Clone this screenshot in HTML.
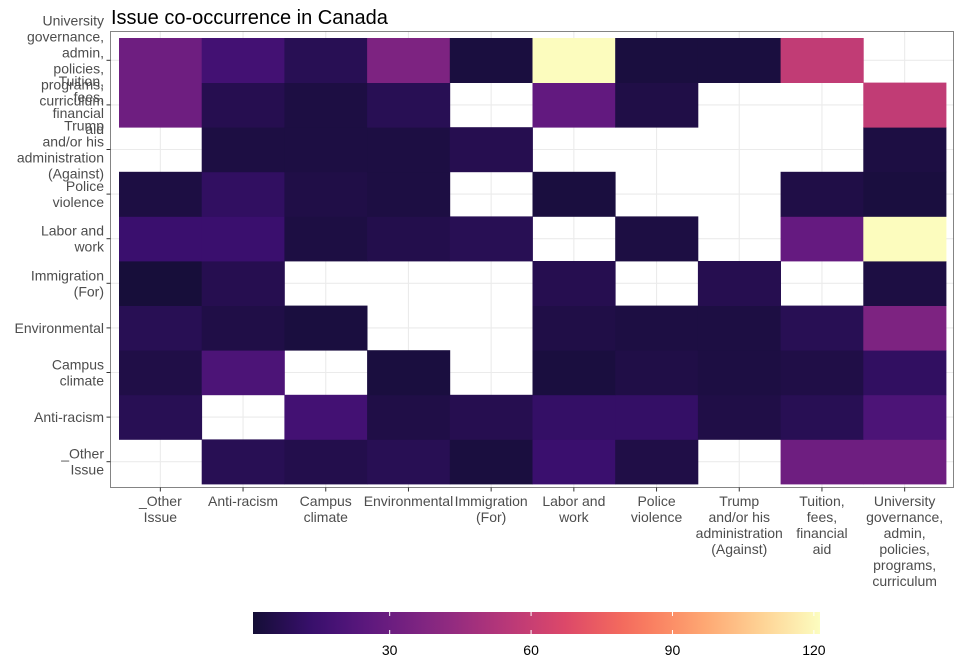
<!DOCTYPE html>
<html><head><meta charset="utf-8">
<style>
body{margin:0;background:#fff;}
svg{display:block;font-family:"Liberation Sans",sans-serif;}
</style></head>
<body>
<svg id="chart" width="960" height="672">
<defs>
<linearGradient id="cbar" x1="0" x2="1" y1="0" y2="0"></linearGradient>
</defs>
<text x="111" y="24" font-size="20" fill="#000">Issue co-occurrence in Canada</text>
</svg>
<script>
const categories = ["_Other Issue","Anti-racism","Campus climate","Environmental","Immigration (For)","Labor and work","Police violence","Trump and/or his administration (Against)","Tuition, fees, financial aid","University governance, admin, policies, programs, curriculum"];
const xLabels = [["_Other","Issue"],["Anti-racism"],["Campus","climate"],["Environmental"],["Immigration","(For)"],["Labor and","work"],["Police","violence"],["Trump","and/or his","administration","(Against)"],["Tuition,","fees,","financial","aid"],["University","governance,","admin,","policies,","programs,","curriculum"]];
// rows indexed by y category (bottom=_Other .. top=University), columns by x category; null = missing
const valuesOther   = [null,8,6,8,3,14,5,null,31,31];
const valuesAnti    = [8,null,17,5,7,12,12,5,8,20];
const valuesCampus  = [5,20,null,3,null,3,5,4,5,11];
const valuesEnv     = [8,5,3,null,null,5,4,4,8,36];
const valuesImm     = [2,7,null,null,null,7,null,7,null,4];
const valuesLabor   = [14,14,4,6,8,null,4,null,28,121];
const valuesPolice  = [4,11,5,4,null,3,null,null,5,3];
const valuesTrump   = [null,4,4,4,7,null,null,null,null,4];
const valuesTuition = [31,7,4,8,null,27,5,null,null,58];
const valuesUniv    = [31,17,8,36,3,121,3,3,58,null];
const tickValues = [30,60,90,120];
const domainMin = 1, domainMax = 121.3;

const rows = [valuesOther,valuesAnti,valuesCampus,valuesEnv,valuesImm,valuesLabor,valuesPolice,valuesTrump,valuesTuition,valuesUniv];
const magma = ["#000004","#140e36","#3b0f70","#641a80","#8c2981","#b73779","#de4968","#f7705c","#fe9f6d","#fecf92","#fcfdbf"];
function hex(c){return [1,3,5].map(i=>parseInt(c.substr(i,2),16));}
function colorAt(t){
  t=Math.max(0,Math.min(1,t));
  const p=t*10,i=Math.min(9,Math.floor(p)),f=p-i;
  const a=hex(magma[i]),b=hex(magma[i+1]);
  return "rgb("+a.map((v,k)=>Math.round(v+(b[k]-v)*f)).join(",")+")";
}
const BEGIN=0.1;
function color(v){return colorAt(BEGIN+(1-BEGIN)*(v-domainMin)/(domainMax-domainMin));}

const PX0=110.5,PX1=953.5,PY0=31.5,PY1=487.5;
const TX0=119,TW=82.7,TY1=484,TH=44.6;
function xCenter(i){return TX0+TW*(i+0.5);}
function yCenter(j){return TY1-TH*(j+0.5);}
const svg=document.getElementById("chart");
const NS="http://www.w3.org/2000/svg";
function mk(tag,attrs,parent){const e=document.createElementNS(NS,tag);for(const k in attrs)e.setAttribute(k,attrs[k]);(parent||svg).appendChild(e);return e;}

const grid=mk("g",{});


for(let i=0;i<10;i++){
  mk("line",{x1:xCenter(i),x2:xCenter(i),y1:PY0,y2:PY1,stroke:"#ebebeb","stroke-width":1.1},grid);
  mk("line",{x1:PX0,x2:PX1,y1:yCenter(i),y2:yCenter(i),stroke:"#ebebeb","stroke-width":1.1},grid);
}
const tiles=mk("g",{});


rows.forEach((row,j)=>{row.forEach((v,i)=>{
  if(v===null)return;
  const r=mk("rect",{x:xCenter(i)-TW/2,y:yCenter(j)-TH/2,width:TW+0.4,height:TH+0.4,fill:color(v)},tiles);
  
  
});});
const border=mk("rect",{x:PX0,y:PY0,width:PX1-PX0,height:PY1-PY0,fill:"none",stroke:"#333","stroke-width":0.6});



xLabels.forEach((lines,i)=>{
  mk("line",{x1:xCenter(i),x2:xCenter(i),y1:PY1,y2:PY1+4,stroke:"#333"});
  const t=mk("text",{x:xCenter(i),y:506,"font-size":14,fill:"#4d4d4d","text-anchor":"middle"});
  
  
  lines.forEach((l,k)=>{const s=mk("tspan",{x:xCenter(i),dy:k?16:0},t);s.textContent=l;});
});
xLabels.forEach((lines,j)=>{
  const yc=yCenter(j);
  mk("line",{x1:PX0-4,x2:PX0,y1:yc,y2:yc,stroke:"#333"});
  const n=lines.length, y0=yc-(n-1)*16/2+5;
  const t=mk("text",{x:104,y:y0,"font-size":14,fill:"#4d4d4d","text-anchor":"end"});
  
  
  lines.forEach((l,k)=>{const s=mk("tspan",{x:104,dy:k?16:0},t);s.textContent=l;});
});

const CB0=253,CB1=820,CBY=612,CBH=22;
function cbX(v){return CB0+(v-domainMin)/(domainMax-domainMin)*(CB1-CB0);}
const grad=document.getElementById("cbar");
for(let k=0;k<=20;k++){mk("stop",{offset:(k/20),"stop-color":colorAt(BEGIN+(1-BEGIN)*k/20)},grad);}
const cb=mk("rect",{x:CB0,y:CBY,width:CB1-CB0,height:CBH,fill:"url(#cbar)"});


tickValues.forEach(v=>{
  mk("line",{x1:cbX(v),x2:cbX(v),y1:CBY,y2:CBY+4,stroke:"#fff"});
  mk("line",{x1:cbX(v),x2:cbX(v),y1:CBY+CBH-4,y2:CBY+CBH,stroke:"#fff"});
  const t=mk("text",{x:cbX(v),y:655,"font-size":14,fill:"#000","text-anchor":"middle"});
  
  
  t.textContent=v;
});
</script>
</body></html>
